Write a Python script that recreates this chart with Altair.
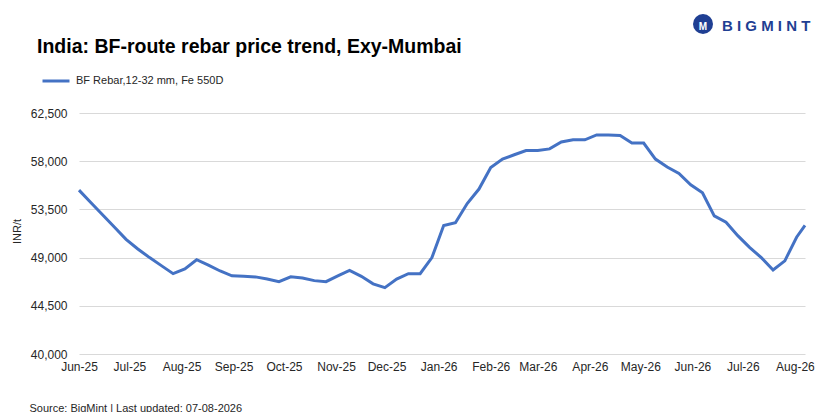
import altair as alt
import pandas as pd

# ---- data ----
series_name = "BF Rebar,12-32 mm, Fe 550D"
dates = list(pd.date_range("2025-06-01", periods=62, freq="7D").strftime("%Y-%m-%dT00:00:00")) + ["2026-08-07T00:00:00"]
prices = [
    55300, 54150, 53000, 51850, 50700, 49800, 49000, 48250, 47500, 47950,
    48800, 48300, 47750, 47300, 47250, 47200, 47000, 46750, 47200, 47100,
    46850, 46750, 47300, 47800, 47250, 46550, 46200, 47000, 47500, 47500,
    49000, 52000, 52250, 54050, 55400, 57400, 58200, 58600, 59000, 59000,
    59150, 59800, 60000, 60000, 60450, 60450, 60400, 59700, 59700, 58200,
    57450, 56850, 55800, 55050, 52900, 52300, 51050, 49950, 49000, 47850,
    48700, 50900, 52000,
]
y_ticks = [40000, 44500, 49000, 53500, 58000, 62500]
month_ticks = [(2025, m) for m in range(6, 13)] + [(2026, m) for m in range(1, 9)]

title_text = "India: BF-route rebar price trend, Exy-Mumbai"
source_text = "Source: BigMint | Last updated: 07-08-2026"
y_title = "INR/t"
logo_text = "B I G M I N T"
logo_icon_text = "M"

df = pd.DataFrame({"date": dates, "price": prices, "series": series_name})
text_df = pd.DataFrame({"label": [logo_text], "icon": [logo_icon_text], "title": [title_text]})

FONT = "Liberation Sans"
NAVY = "#1f3f93"

x_enc = alt.X(
    "date:T",
    scale=alt.Scale(domain=[alt.DateTime(year=2025, month=6, date=1),
                            alt.DateTime(year=2026, month=8, date=7)]),
    axis=alt.Axis(
        values=[alt.DateTime(year=y, month=m, date=1) for y, m in month_ticks],
        format="%b-%y", grid=False, domain=False, ticks=False, tickSize=0,
        labelPadding=7, labelFontSize=12, labelColor="#262626",
        labelFlush=False, labelOverlap=False,
        title=source_text, titleX=-50, titleY=54, titleAlign="left",
        titleBaseline="middle", titleFontWeight="normal", titleFontSize=11,
        titleColor="#262626",
    ),
)
y_enc = alt.Y(
    "price:Q",
    scale=alt.Scale(domain=[40000, 62500], nice=False, zero=False),
    axis=alt.Axis(
        values=y_ticks, format=",.0f", grid=True, gridColor="#d9d9d9", gridWidth=1,
        domain=False, ticks=False, tickSize=0, labelPadding=12, labelFontSize=12,
        labelColor="#262626",
        title=y_title, titleX=-62, titleY=118, titleAngle=270, titleAlign="center",
        titleBaseline="middle", titleFontWeight="normal", titleFontSize=11,
        titleColor="#262626",
    ),
)

line = alt.Chart(df).mark_line(strokeWidth=3).encode(
    x=x_enc,
    y=y_enc,
    color=alt.Color(
        "series:N",
        scale=alt.Scale(range=["#4472C4"]),
        legend=alt.Legend(
            orient="none", legendX=-38, legendY=-47, title=None,
            symbolType="stroke", symbolStrokeWidth=3, symbolSize=729,
            labelFontSize=11, labelColor="#262626", labelOffset=5, padding=0,
        ),
    ),
)

title_mark = alt.Chart(text_df).mark_text(
    align="left", baseline="middle", fontSize=19.5, fontWeight="bold", color="#000000", font=FONT
).encode(x=alt.value(-42), y=alt.value(-66), text="title:N")
logo_circle = alt.Chart(text_df).mark_point(
    filled=True, shape="circle", size=400, color=NAVY, opacity=1
).encode(x=alt.value(624), y=alt.value(-89))
logo_icon = alt.Chart(text_df).mark_text(
    fontSize=10, fontWeight="bold", color="white", font=FONT, baseline="middle"
).encode(x=alt.value(624), y=alt.value(-86), text="icon:N")
logo_word = alt.Chart(text_df).mark_text(
    align="left", baseline="middle", fontSize=15, fontWeight="bold", color=NAVY, font=FONT
).encode(x=alt.value(643), y=alt.value(-87), text="label:N")

chart = alt.layer(line, title_mark, logo_circle, logo_icon, logo_word).properties(
    width=726,
    height=241,
    autosize=alt.AutoSizeParams(type="none"),
    padding={"left": 71, "top": 105, "right": 22, "bottom": 58},
).configure(font=FONT).configure_view(stroke=None)

chart.save("out.html", embed_options={"renderer": "svg", "actions": False})
